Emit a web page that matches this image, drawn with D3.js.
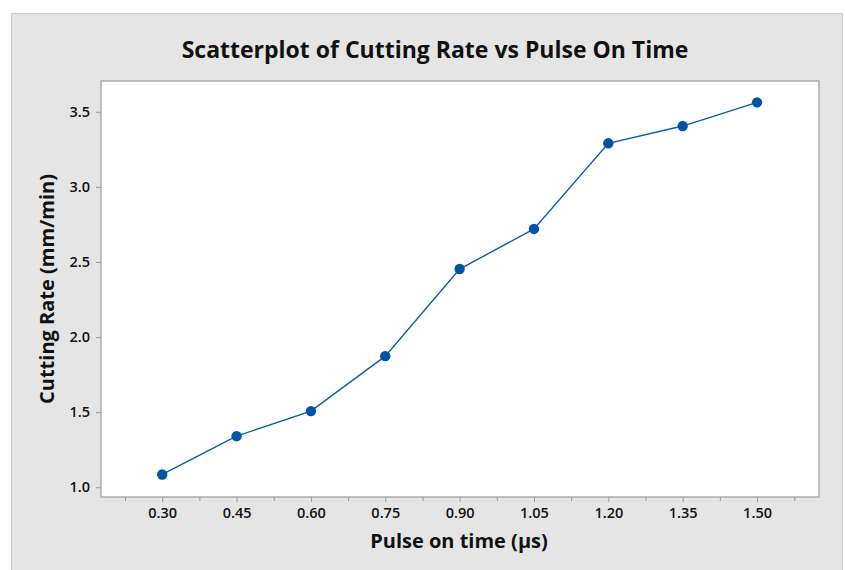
<!DOCTYPE html>
<html><head><meta charset="utf-8">
<script src="https://cdn.jsdelivr.net/npm/d3@7"></script>
<style>
html,body{margin:0;padding:0;background:#fff;}
text{font-family:"Open Sans","Noto Sans",sans-serif;}
</style></head>
<body>
<svg id="chart" width="845" height="570"></svg>
<script>
const xValues = [0.30, 0.45, 0.60, 0.75, 0.90, 1.05, 1.20, 1.35, 1.50];
const yValues = [1.085, 1.34, 1.507, 1.873, 2.453, 2.72, 3.29, 3.405, 3.563];
const xTicks = [0.30, 0.45, 0.60, 0.75, 0.90, 1.05, 1.20, 1.35, 1.50];
const xMinorTicks = [0.225, 0.375, 0.525, 0.675, 0.825, 0.975, 1.125, 1.275, 1.425, 1.575];
const yTicks = [1.0, 1.5, 2.0, 2.5, 3.0, 3.5];
const titleText = "Scatterplot of Cutting Rate vs Pulse On Time";
const xLabel = "Pulse on time (µs)";
const yLabel = "Cutting Rate (mm/min)";

const svg = d3.select("#chart");
const plot = {left: 101, top: 81, right: 819, bottom: 497};

// outer panel
svg.append("rect").attr("x", 11.5).attr("y", 13.5).attr("width", 831).attr("height", 570)
  .attr("fill", "#e5e5e5").attr("stroke", "#c9c9c9").attr("stroke-width", 1);

const x = d3.scaleLinear().domain([0.1765, 1.625]).range([plot.left, plot.right]);
const y = d3.scaleLinear().domain([0.935, 3.705]).range([plot.bottom, plot.top]);

svg.append("rect").attr("x", plot.left).attr("y", plot.top)
  .attr("width", plot.right - plot.left).attr("height", plot.bottom - plot.top)
  .attr("fill", "#fff").attr("stroke", "#a0a0a0").attr("stroke-width", 1.3);

// axes
const xAxis = svg.append("g").attr("transform", `translate(0,${plot.bottom})`)
  .call(d3.axisBottom(x).tickValues(xTicks).tickFormat(d3.format(".2f")).tickSize(5).tickPadding(6));
const xMinor = svg.append("g").attr("transform", `translate(0,${plot.bottom})`)
  .call(d3.axisBottom(x).tickValues(xMinorTicks).tickFormat("").tickSize(4));
const yAxis = svg.append("g").attr("transform", `translate(${plot.left},0)`)
  .call(d3.axisLeft(y).tickValues(yTicks).tickFormat(d3.format(".1f")).tickSize(5).tickPadding(6));
[xAxis, xMinor, yAxis].forEach(g => {
  g.select(".domain").remove();
  g.selectAll(".tick line").attr("stroke", "#9a9a9a");
  g.selectAll(".tick text").attr("fill", "#111").style("font-size", "14.5px").style("font-weight", "600")
    .style("font-family", "'Open Sans','Noto Sans',sans-serif");
});

// line + points
const pts = xValues.map((d, i) => [d, yValues[i]]);
svg.append("path").datum(pts)
  .attr("fill", "none").attr("stroke", "#0a5cb0").attr("stroke-width", 1.4)
  .attr("d", d3.line().x(d => x(d[0])).y(d => y(d[1])));

svg.selectAll("circle.pt").data(pts).enter()
  .append("circle").attr("class", "pt")
  .attr("cx", d => x(d[0])).attr("cy", d => y(d[1])).attr("r", 5.2)
  .attr("fill", "#0054a6");

// title and labels
svg.append("text").attr("x", 435).attr("y", 58).attr("text-anchor", "middle")
  .style("font-size", "23px").style("font-weight", "700").attr("fill", "#111").text(titleText);
svg.append("text").attr("x", 459).attr("y", 548).attr("text-anchor", "middle")
  .style("font-size", "20px").style("font-weight", "700").attr("fill", "#111").text(xLabel);
svg.append("text").attr("transform", "translate(54,289) rotate(-90)").attr("text-anchor", "middle")
  .style("font-size", "20px").style("font-weight", "700").attr("fill", "#111").text(yLabel);
</script>
</body></html>
